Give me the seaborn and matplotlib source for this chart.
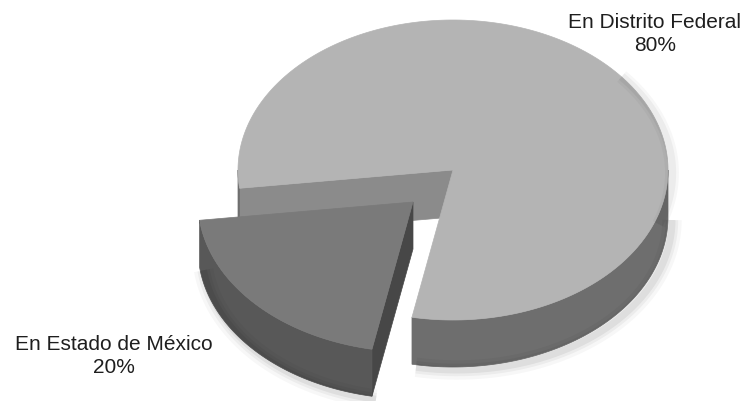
import numpy as np
import matplotlib
matplotlib.use("Agg")
import matplotlib.pyplot as plt
from matplotlib.patches import Polygon
import seaborn as sns

# ---- data ----
labels = ["En Distrito Federal", "En Estado de México"]
values = [80, 20]
pct_labels = ["80%", "20%"]

# ---- style ----
sns.set_theme(style="white")
plt.rcParams['font.family'] = ['Liberation Sans', 'DejaVu Sans']

top_colors = ["#b4b4b4", "#7a7a7a"]
wall_colors = ["#6e6e6e", "#585858"]
cut_colors = ["#8b8b8b", "#474747"]

W, H = 751, 402
fig = plt.figure(figsize=(W / 100, H / 100), dpi=100)
ax = fig.add_axes([0, 0, 1, 1])
ax.set_xlim(0, W)
ax.set_ylim(H, 0)
ax.axis("off")

cx, cy = 453.0, 171.0
rx, ry = 215.0, 150.0
depth = 47.0
start_small = 101.0  # parametric angle (screen, y down) where small slice starts
offsets = [(0.0, 0.0), (-40.0, 32.0)]

total = float(sum(values))
spans = [v / total * 360.0 for v in values]
ranges = [(start_small + spans[1], start_small + 360.0), (start_small, start_small + spans[1])]


def arc(ox, oy, a, b, n=240):
    t = np.radians(np.linspace(a, b, n))
    return np.column_stack([ox + rx * np.cos(t), oy + ry * np.sin(t)])


def front_parts(a, b):
    parts = []
    for lo, hi in [(0, 180), (360, 540), (-360, -180)]:
        s, e = max(a, lo), min(b, hi)
        if e > s:
            parts.append((s, e))
    return parts


def draw_shadow(ox, oy, a, b):
    for s, e in front_parts(a, b):
        if e - s < 15:
            continue
        seg = arc(ox + 4, oy + depth + 3, s, e)
        for lw, al in [(14, 0.03), (9, 0.045), (5, 0.06)]:
            ax.plot(seg[:, 0], seg[:, 1], color="black", lw=lw, alpha=al,
                    solid_capstyle="butt")
    s, e = max(a, 320), min(b, 380)
    if e > s:
        seg = arc(ox + 4, oy + 3, s, e)
        for lw, al in [(10, 0.03), (6, 0.045)]:
            ax.plot(seg[:, 0], seg[:, 1], color="black", lw=lw, alpha=al,
                    solid_capstyle="butt")


def draw_slice(i):
    a, b = ranges[i]
    ox, oy = cx + offsets[i][0], cy + offsets[i][1]
    draw_shadow(ox, oy, a, b)
    # cut faces that face the viewer
    for t, sign in [(a, -1), (b, +1)]:
        nt = np.radians(t + sign * 90.0)
        if np.sin(nt) > 0.02:
            ex, ey = ox + rx * np.cos(np.radians(t)), oy + ry * np.sin(np.radians(t))
            quad = [(ox, oy), (ex, ey), (ex, ey + depth), (ox, oy + depth)]
            ax.add_patch(Polygon(quad, closed=True, facecolor=cut_colors[i],
                                 edgecolor=cut_colors[i], lw=0.5))
    # outer wall (front parts)
    for s, e in front_parts(a, b):
        topa = arc(ox, oy, s, e)
        bota = arc(ox, oy + depth, s, e)
        ax.add_patch(Polygon(np.vstack([topa, bota[::-1]]), closed=True,
                             facecolor=wall_colors[i], edgecolor=wall_colors[i], lw=0.5))
    # top face
    top = np.vstack([[[ox, oy]], arc(ox, oy, a, b)])
    ax.add_patch(Polygon(top, closed=True, facecolor=top_colors[i],
                         edgecolor=top_colors[i], lw=0.5))


draw_slice(0)
draw_slice(1)

ax.text(655, 34, labels[0] + "\n" + pct_labels[0], ha="center", va="center",
        fontsize=15, color="#1e1e1e", linespacing=1.3)
ax.text(114, 356, labels[1] + "\n" + pct_labels[1], ha="center", va="center",
        fontsize=15, color="#1e1e1e", linespacing=1.3)

fig.savefig("out.png", dpi=100, facecolor="white")
